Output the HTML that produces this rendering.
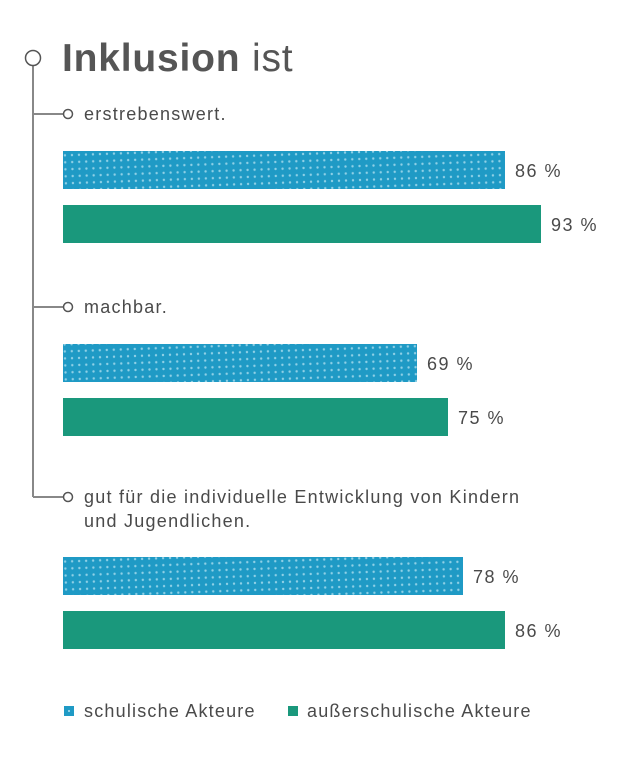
<!DOCTYPE html>
<html><head><meta charset="utf-8"><style>
body{margin:0;background:#fff;width:624px;height:759px;overflow:hidden;font-family:"Liberation Sans",sans-serif;color:#4a4a4a}
</style></head><body>
<svg width="624" height="759" xmlns="http://www.w3.org/2000/svg">
<defs>
<pattern id="dots" width="7" height="7" patternUnits="userSpaceOnUse" patternTransform="rotate(-2)">
<rect width="7" height="7" fill="#1f9ac5"/>
<circle cx="3.5" cy="3.5" r="1.2" fill="#8fd0e6"/>
</pattern>
</defs>
<g stroke="#888" stroke-width="2" fill="none">
<line x1="33" y1="65" x2="33" y2="497"/>
<line x1="33" y1="114" x2="64" y2="114"/>
<line x1="33" y1="307" x2="64" y2="307"/>
<line x1="33" y1="497" x2="64" y2="497"/>
</g>
<g stroke="#555" stroke-width="1.5" fill="#fff">
<circle cx="33" cy="58" r="7.5"/>
<circle cx="68" cy="114" r="4.5"/>
<circle cx="68" cy="307" r="4.5"/>
<circle cx="68" cy="497" r="4.5"/>
</g>
<text x="62" y="71" font-size="39" fill="#555" letter-spacing="0.8"><tspan font-weight="bold">Inklusion</tspan> ist</text>
<g font-size="18" fill="#4a4a4a" letter-spacing="1.25">
<text x="84" y="120">erstrebenswert.</text>
<text x="84" y="313">machbar.</text>
<text x="84" y="503">gut für die individuelle Entwicklung von Kindern</text>
<text x="84" y="527">und Jugendlichen.</text>
</g>
<rect x="63" y="151" width="442" height="38" fill="url(#dots)"/>
<rect x="63" y="205" width="478" height="38" fill="#1a987c"/>
<rect x="63" y="344" width="354" height="38" fill="url(#dots)"/>
<rect x="63" y="398" width="385" height="38" fill="#1a987c"/>
<rect x="63" y="557" width="400" height="38" fill="url(#dots)"/>
<rect x="63" y="611" width="442" height="38" fill="#1a987c"/>
<g font-size="18" fill="#4a4a4a" letter-spacing="1.5">
<text x="515" y="177">86 %</text>
<text x="551" y="231">93 %</text>
<text x="427" y="370">69 %</text>
<text x="458" y="424">75 %</text>
<text x="473" y="583">78 %</text>
<text x="515" y="637">86 %</text>
</g>
<rect x="64" y="706" width="10" height="10" fill="#1f9ac5"/>
<rect x="68" y="710" width="2" height="2" fill="#8fd0e6"/>
<text x="84" y="717" font-size="18" fill="#4a4a4a" letter-spacing="1.2">schulische Akteure</text>
<rect x="288" y="706" width="10" height="10" fill="#1a987c"/>
<text x="307" y="717" font-size="18" fill="#4a4a4a" letter-spacing="1.2">außerschulische Akteure</text>
</svg>
</body></html>
